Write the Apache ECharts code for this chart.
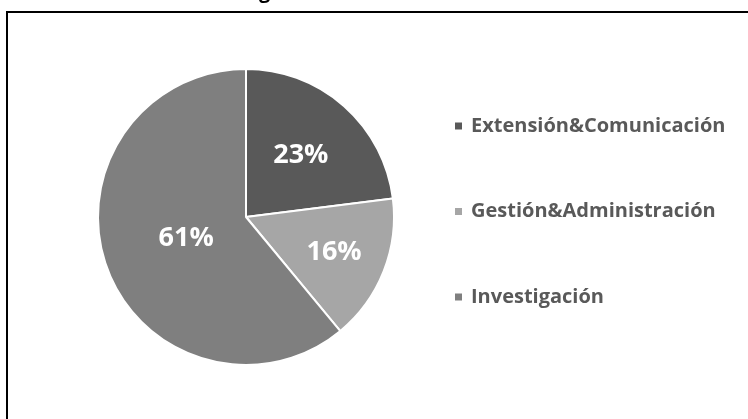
<!DOCTYPE html>
<html><head><meta charset="utf-8">
<script src="https://cdn.jsdelivr.net/npm/echarts@6/dist/echarts.min.js"></script>
<style>html,body{margin:0;padding:0;background:#fff}#c{width:748px;height:419px}</style>
</head><body><div id="c"></div>
<script>
var categories = ['Extensión&Comunicación', 'Gestión&Administración', 'Investigación'];
var values = [23, 16, 61];
var colors = ['#595959', '#a6a6a6', '#7f7f7f'];
var labelRadiusFactor = [0.56, 0.64, 0.43];

var CX = 246, CY = 217, R = 148;
var chart = echarts.init(document.getElementById('c'), null, {renderer: 'canvas'});
var option = {
  animation: false,
  backgroundColor: '#ffffff',
  graphic: [
    {type: 'rect', shape: {x: 7, y: 12, width: 800, height: 500}, style: {fill: 'none', stroke: '#000', lineWidth: 2}, z: 0},
    {type: 'text', left: 259, top: -18, style: {text: 'g', font: 'bold 20px "Open Sans"', fill: '#000'}}
  ],
  legend: {
    orient: 'vertical',
    left: 453, top: 115, padding: 0,
    itemWidth: 9, itemHeight: 9, icon: 'rect',
    itemGap: 63.5,
    selectedMode: false,
    textStyle: {fontFamily: 'Open Sans', fontWeight: 'bold', fontSize: 20, color: '#595959', lineHeight: 22, padding: [0, 0, 0, 3]},
    data: categories
  },
  series: [{
    type: 'pie',
    center: [CX, CY],
    radius: [0, R],
    startAngle: 90,
    clockwise: true,
    itemStyle: {borderColor: '#ffffff', borderWidth: 2},
    label: {position: 'inner', formatter: '{d}%', color: '#ffffff', fontFamily: 'Open Sans', fontWeight: 'bold', fontSize: 27},
    labelLine: {show: false},
    emphasis: {disabled: true},
    labelLayout: function (p) {
      var r = p.labelRect;
      var lx = r.x + r.width / 2, ly = r.y + r.height / 2;
      var dx = lx - CX, dy = ly - CY;
      var d = Math.sqrt(dx * dx + dy * dy) || 1;
      var k = labelRadiusFactor[p.dataIndex] * R / d;
      return {dx: dx * (k - 1), dy: dy * (k - 1)};
    },
    data: categories.map(function (c, i) { return {name: c, value: values[i], itemStyle: {color: colors[i]}}; })
  }]
};
chart.setOption(option);
</script></body></html>
